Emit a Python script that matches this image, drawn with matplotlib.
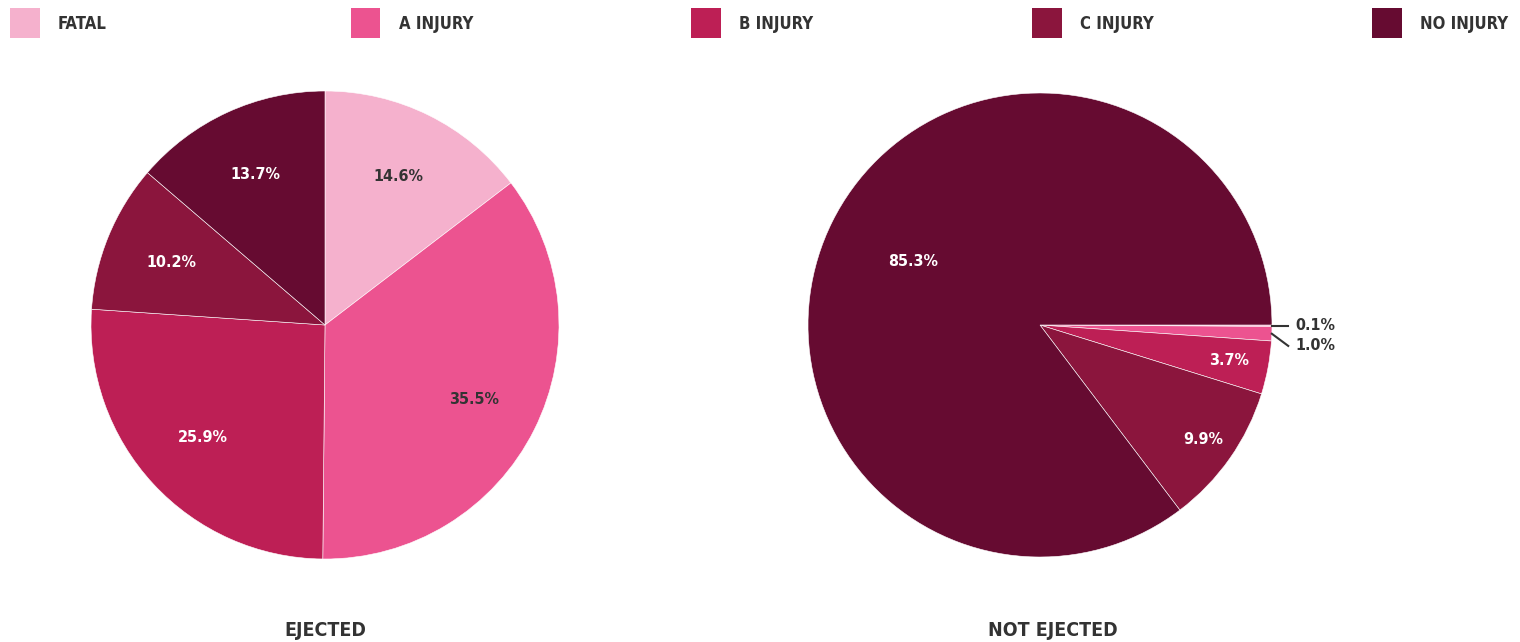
import matplotlib.pyplot as plt
from matplotlib.patches import Rectangle
import numpy as np

plt.rcParams['font.family'] = ['DejaVu Sans']
plt.rcParams['font.weight'] = 'bold'
plt.rcParams['font.stretch'] = 'condensed'

# data
categories = ['FATAL', 'A INJURY', 'B INJURY', 'C INJURY', 'NO INJURY']
colors = ['#f5b1cd', '#ec5390', '#bd1f55', '#8b153d', '#660b31']
ejected = [14.6, 35.5, 25.9, 10.2, 13.7]
not_ejected = [0.1, 1.0, 3.7, 9.9, 85.3]
titles = ['EJECTED', 'NOT EJECTED']

dark = '#333333'
light_text = [dark, dark, 'white', 'white', 'white']

fig = plt.figure(figsize=(15.2, 6.42), dpi=100)

# legend across the top
for i, (cat, col) in enumerate(zip(categories, colors)):
    x0 = (10 + i * 340.5) / 1520
    fig.add_artist(Rectangle((x0, 1 - 38 / 642), 30 / 1520, 30 / 642,
                             transform=fig.transFigure, color=col, lw=0))
    fig.text(x0 + 48 / 1520, 1 - 24 / 642, cat, fontsize=12, color=dark,
             va='center', ha='left')


def draw_pie(rect, values, start, dists, title, title_x):
    ax = fig.add_axes(rect)
    wedges, _ = ax.pie(values, colors=colors, startangle=start, counterclock=False,
                       wedgeprops=dict(edgecolor='white', linewidth=0.4))
    ax.set_xlim(-1, 1)
    ax.set_ylim(-1, 1)
    ax.set_aspect('equal')
    ax.axis('off')
    prev_y = None
    for w, v, d, tc in zip(wedges, values, dists, light_text):
        ang = np.deg2rad((w.theta1 + w.theta2) / 2)
        if v < 2:
            # outside label with leader line
            ex, ey = np.cos(ang), np.sin(ang)
            ly = ey
            if prev_y is not None and ly > prev_y - 0.087:
                ly = prev_y - 0.087
            prev_y = ly
            ax.plot([ex, 1.07], [ey, ly], color=dark, lw=1.5, clip_on=False)
            ax.text(1.1, ly, f'{v:.1f}%', fontsize=11.5, color=dark,
                    ha='left', va='center', clip_on=False)
        else:
            ax.text(d * np.cos(ang), d * np.sin(ang), f'{v:.1f}%', fontsize=11.5,
                    color=tc, ha='center', va='center')
    fig.text(title_x, 2 / 642, title, fontsize=14, color=dark,
             ha='center', va='bottom')


draw_pie([91 / 1520, 1 - 559 / 642, 468 / 1520, 468 / 642], ejected, 90,
         [0.71] * 5, titles[0], 325 / 1520)
draw_pie([808 / 1520, 1 - 557 / 642, 464 / 1520, 464 / 642], not_ejected, 0,
         [0.7, 0.7, 0.83, 0.86, 0.61], titles[1], 1053 / 1520)

plt.savefig('out.png', dpi=100)
